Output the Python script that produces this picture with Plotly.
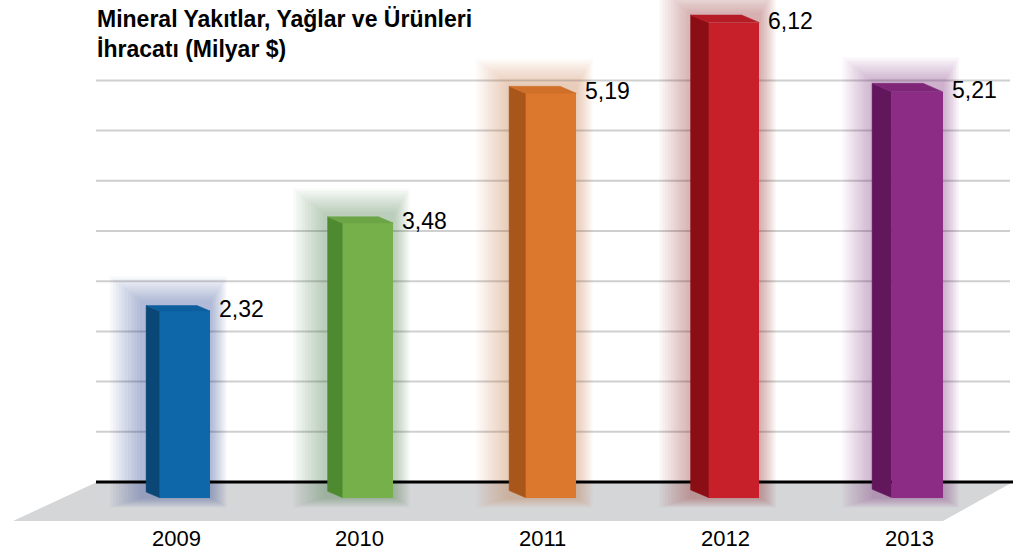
import plotly.graph_objects as go

# ---- data ----
years = ["2009", "2010", "2011", "2012", "2013"]
values = [2.32, 3.48, 5.19, 6.12, 5.21]
front_colors = ["#0e67a9", "#76b04b", "#db782d", "#c7202b", "#8d2c85"]
side_colors = ["#0a4777", "#4e8a30", "#a9561a", "#8c0e15", "#62175c"]
top_colors = ["#0c5e9c", "#6ba545", "#cf6f28", "#b51c25", "#7f2679"]
halo_colors = ["40,70,130", "70,120,50", "190,110,60", "150,40,40", "120,40,120"]
title_lines = ["Mineral Yakıtlar, Yağlar ve Ürünleri", "İhracatı (Milyar $)"]

W, H = 1018, 553
PX_X = 183.1          # pixels per category step
PX_Y = 75.9           # pixels per value unit
X0_PX = 184.6         # pixel of first category
Y0_PX = 487.1         # pixel of value 0 (front plane)

def ux(px):  # horizontal pixel distance -> x units
    return px / PX_X

def uy(px):  # vertical pixel distance -> y units
    return px / PX_Y

x_range = [-X0_PX / PX_X, (W - X0_PX) / PX_X]
y_range = [-(H - Y0_PX) / PX_Y, Y0_PX / PX_Y]

BAR_W = ux(51)
BASE = -uy(10.4)
WALL0 = uy(5.1)
GRID_STEP = uy(50.2)
FONT = "Liberation Sans, Arial, Helvetica, sans-serif"

fig = go.Figure()

# front faces
fig.add_trace(go.Bar(
    x=list(range(len(years))), y=[v - BASE for v in values], base=BASE,
    width=BAR_W, marker=dict(color=front_colors, line=dict(width=0)),
    hoverinfo="skip", showlegend=False))

# side and top faces
for i, v in enumerate(values):
    dx = -ux(13 + 1.6 * i)
    dy = uy(5.5 + 0.7 * i)
    xl, xr = i - BAR_W / 2, i + BAR_W / 2
    fig.add_trace(go.Scatter(
        x=[xl, xl, xl + dx, xl + dx, xl], y=[BASE, v, v + dy, BASE + dy, BASE],
        mode="lines", fill="toself", fillcolor=side_colors[i],
        line=dict(width=0.5, color=side_colors[i]), hoverinfo="skip", showlegend=False))
    fig.add_trace(go.Scatter(
        x=[xl, xr, xr + dx, xl + dx, xl], y=[v, v, v + dy, v + dy, v],
        mode="lines", fill="toself", fillcolor=top_colors[i],
        line=dict(width=0.5, color=top_colors[i]), hoverinfo="skip", showlegend=False))

shapes = []
# wall gridlines
for k in range(1, 9):
    yv = WALL0 + GRID_STEP * k
    shapes.append(dict(type="line", layer="below", xref="x", yref="y",
                       x0=ux(96 - X0_PX), x1=ux(1010 - X0_PX), y0=yv, y1=yv,
                       line=dict(color="#cfcfcf", width=2)))
# floor
fl_front = -uy(521 - Y0_PX)
shapes.append(dict(type="path", layer="below", xref="x", yref="y",
                   path=(f"M {ux(97 - X0_PX)} {WALL0} L {ux(1013 - X0_PX)} {WALL0} "
                         f"L {ux(943 - X0_PX)} {fl_front} L {ux(13 - X0_PX)} {fl_front} Z"),
                   fillcolor="#d5d6d8", line=dict(width=0)))
# soft halos
for i, v in enumerate(values):
    for k in range(1, 12):
        e = 3.0 * k
        shapes.append(dict(type="rect", layer="below", xref="x", yref="y",
                           x0=i - BAR_W / 2 - ux(16 + e), x1=i + BAR_W / 2 + ux(e * 0.5),
                           y0=BASE - uy(e * 0.3), y1=v + uy(8 + e * 0.8),
                           fillcolor=f"rgba({halo_colors[i]},0.034)", line=dict(width=0)))
# black back edge of floor
shapes.append(dict(type="line", layer="below", xref="x", yref="y",
                   x0=ux(96 - X0_PX), x1=ux(1013 - X0_PX), y0=WALL0, y1=WALL0,
                   line=dict(color="#000000", width=3)))

annotations = []
for i, v in enumerate(values):
    annotations.append(dict(x=i + BAR_W / 2, y=v, xref="x", yref="y",
                            text=f"{v:.2f}".replace(".", ","), showarrow=False,
                            xanchor="left", yanchor="middle", xshift=7, yshift=2,
                            font=dict(family=FONT, size=23, color="#000000")))
    annotations.append(dict(x=i, y=-uy(538.5 - Y0_PX), xref="x", yref="y",
                            text=years[i], showarrow=False, xanchor="center",
                            yanchor="middle", xshift=-8,
                            font=dict(family=FONT, size=22, color="#000000")))
for j, t in enumerate(title_lines):
    annotations.append(dict(x=95 / W, y=1 - (19 + 30 * j) / H, xref="paper", yref="paper",
                            text=f"<b>{t}</b>", showarrow=False, xanchor="left",
                            yanchor="middle",
                            font=dict(family=FONT, size=23, color="#000000")))

fig.update_layout(
    width=W, height=H, margin=dict(l=0, r=0, t=0, b=0),
    paper_bgcolor="white", plot_bgcolor="white",
    xaxis=dict(range=x_range, visible=False, fixedrange=True),
    yaxis=dict(range=y_range, visible=False, fixedrange=True),
    shapes=shapes, annotations=annotations, bargap=0, showlegend=False)

fig.write_html("out.html", config={"displayModeBar": False},
               post_script="document.body.style.margin='0';document.body.style.overflow='hidden';")
